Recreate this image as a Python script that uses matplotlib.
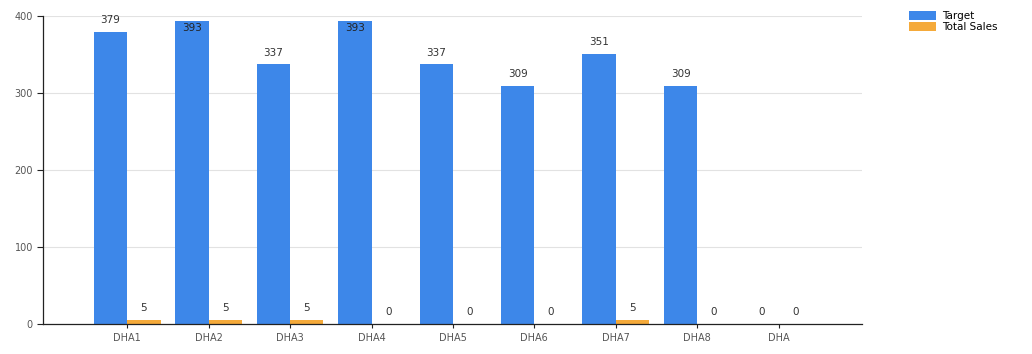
import matplotlib.pyplot as plt
import numpy as np

categories = ['DHA1', 'DHA2', 'DHA3', 'DHA4', 'DHA5', 'DHA6', 'DHA7', 'DHA8', 'DHA']
target = [379, 393, 337, 393, 337, 309, 351, 309, 0]
total_sales = [5, 5, 5, 0, 0, 0, 5, 0, 0]

blue = '#3d87e9'
orange = '#f5aa3a'

fig = plt.figure(figsize=(10.32, 3.54), dpi=100)
ax = fig.add_axes([0.042, 0.085, 0.793, 0.870])

x = np.arange(len(categories))
w = 0.41
b1 = ax.bar(x - w / 2, target, width=w, color=blue, label='Target')
b2 = ax.bar(x + w / 2, total_sales, width=w, color=orange, label='Total Sales')

# value labels, the tall ones sit inside the bar top
for xi, v in zip(x - w / 2, target):
    if v == 0:
        ax.text(xi, v + 9, str(v), ha='center', va='bottom', fontsize=7.5, color='#333333')
    elif v > 385:
        ax.text(xi, v - 2, str(v), ha='center', va='top', fontsize=7.5, color='#222222')
    else:
        ax.text(xi, v + 9, str(v), ha='center', va='bottom', fontsize=7.5, color='#333333')
for xi, v in zip(x + w / 2, total_sales):
    ax.text(xi, v + 9, str(v), ha='center', va='bottom', fontsize=7.5, color='#333333')

ax.set_xlim(-1.03, 9.02)
ax.set_ylim(0, 400)
ax.set_yticks([0, 100, 200, 300, 400])
ax.set_xticks(x)
ax.set_xticklabels(categories)
ax.tick_params(axis='both', labelsize=7, colors='#555555', length=4, width=0.8)
ax.tick_params(axis='x', length=3, color='#222222')
ax.tick_params(axis='y', color='#222222')
ax.yaxis.grid(True, color='#e2e2e2', linewidth=0.8)
ax.set_axisbelow(True)
for s in ['top', 'right']:
    ax.spines[s].set_visible(False)
for s in ['left', 'bottom']:
    ax.spines[s].set_color('#222222')
    ax.spines[s].set_linewidth(0.9)

fig.legend(handles=[b1, b2], loc='upper left', bbox_to_anchor=(0.872, 0.995),
           frameon=False, fontsize=7.5, handlelength=2.6, handleheight=0.9,
           labelspacing=0.1, handletextpad=0.5)

fig.savefig('out.png', dpi=100)
